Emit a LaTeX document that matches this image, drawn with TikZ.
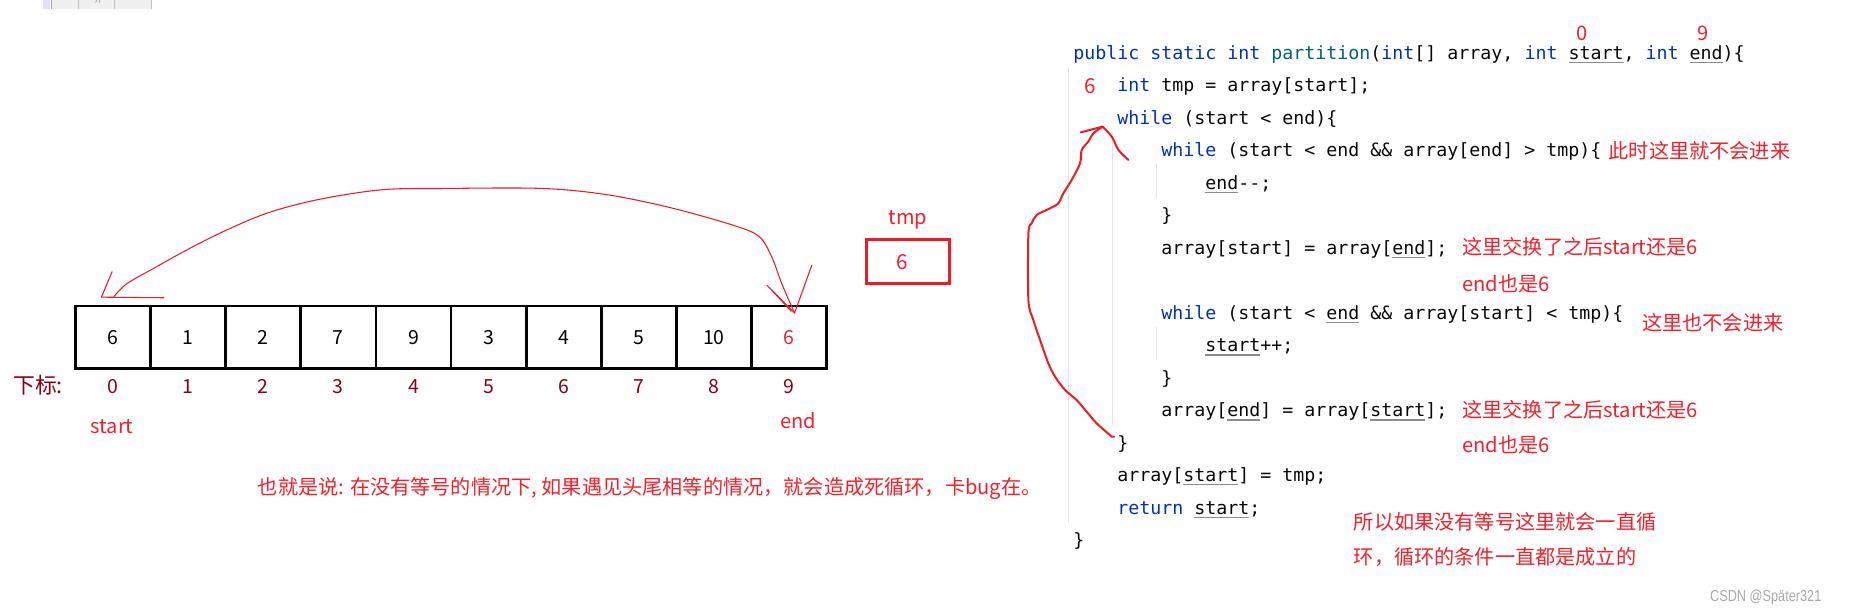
\documentclass[tikz,border=0pt]{standalone}
\usepackage{fontspec}
\usepackage{graphicx}
\newfontfamily\codefam{DejaVu Sans Mono}
\newfontfamily\cjkfam{Noto Sans CJK SC}
\newfontfamily\wmfam{Liberation Sans}
\definecolor{kwblue}{HTML}{0033B3}
\definecolor{fnteal}{HTML}{00627A}
\definecolor{codeblack}{HTML}{080808}
\definecolor{ulgray}{HTML}{8C8C8C}
\definecolor{guidegray}{HTML}{E3E3E3}
\definecolor{annred}{HTML}{F2202A}
\definecolor{penred}{HTML}{ED1C24}
\definecolor{idxred}{HTML}{880015}
\definecolor{wmgray}{HTML}{A8A8A8}
\newcommand\kw[1]{\textcolor{kwblue}{#1}}
\newcommand\prmu[1]{\setbox0=\hbox{#1}\rlap{\color{ulgray}\rule[-3.2pt]{\wd0}{0.9pt}}\box0\relax}
\tikzset{
  codeln/.style={anchor=base west, inner sep=0pt, text=codeblack, font=\codefam\fontsize{15.5}{18}\selectfont},
  ann/.style={anchor=base west, inner sep=0pt, text=annred, font=\cjkfam\fontsize{17.1}{20}\selectfont},
  cell/.style={draw=black, line width=2.3pt, minimum width=63.7pt, minimum height=53pt, inner sep=0pt, font=\cjkfam\fontsize{16.5}{18}\selectfont},
  idx/.style={anchor=base, inner sep=0pt, text=idxred, font=\cjkfam\fontsize{16.5}{18}\selectfont},
  redlbl/.style={anchor=base, inner sep=0pt, text=annred, font=\cjkfam\fontsize{17}{20}\selectfont},
  penthin/.style={draw=penred, line width=0.9pt, line cap=round, line join=round},
  penthick/.style={draw=penred, line width=1.7pt, line cap=round, line join=round},
  guide/.style={draw=guidegray, line width=0.85pt}
}
\begin{document}
\begin{tikzpicture}[x=1pt, y=-1pt]
\useasboundingbox (0,0) rectangle (1568,520);
\fill[white] (0,0) rectangle (1568,520);
% toolbar remnant
\fill[fill=blue!12!white] (36.8,-2) rectangle (42.6,7.6);
\fill[fill=black!6] (43.6,-2) rectangle (128.6,7.6);
\draw[draw=black!35, line width=0.8pt] (43.6,-2) -- (43.6,7.6);
\draw[draw=black!25, line width=0.6pt] (66.4,-2) -- (66.4,7.6) (97,-2) -- (97,7.6) (128.6,-2) -- (128.6,7.6);
\node[inner sep=0pt, text=black!60, font=\fontsize{7}{8}\selectfont] (tbchev) at (83,1.5) {››};

% array
\foreach \v [count=\i from 0] in {6,1,2,7,9,3,4,5,10} {
  \node[cell] (c\i) at ({95.85+63.7*\i},286) {\v};
}
\node[cell, text=annred] (c9) at ({95.85+63.7*9},286) {6};
\node[anchor=base west, inner sep=0pt, text=idxred, font=\cjkfam\fontsize{18.5}{20}\selectfont] (xblbl) at (11,333.5) {下标:};
\foreach \i in {0,...,9} {
  \node[idx] (i\i) at ({95.85+63.7*\i},333.5) {\i};
}
\node[redlbl] (startlbl) at (95,368) {start};
\node[redlbl] (endlbl) at (677,363) {end};

% tmp
\node[redlbl] (tmplbl) at (770,190) {tmp};
\node[draw=penred, line width=2.8pt, minimum width=70pt, minimum height=37.2pt, inner sep=0pt] (tmpbox) at (770,221.9) {};
\node[redlbl, font=\cjkfam\fontsize{17.5}{20}\selectfont] (tmpval) at (765.2,228.4) {6};

% freehand arc over array
\coordinate (arcR) at (673.8,265.4);
\coordinate (arcL) at (86,252);
\draw[penthin] plot[smooth, tension=0.55] coordinates {(arcR) (663,240.7) (654.8,218.7) (644,200.8) (622.3,191.2) (568.1,176) (513.9,165) (459.7,159.8) (378.4,159.8) (324.2,160.9) (270,169.2) (226.6,180.7) (188.7,196.7) (156.1,213.2) (129,228.3) (107.4,240.7) (96.5,251.7)};
\draw[penthin] (95,230.5) -- (arcL) -- (139,252.5);
\draw[penthin] (650.5,242) -- (arcR) -- (688.4,225);
\draw[penthin] (654.5,246) -- (671,264);

% bottom sentence
\node[ann] (summary) at (218.5,419) {也就是说: 在没有等号的情况下, 如果遇见头尾相等的情况，就会造成死循环，卡bug在。};

% indent guides
\draw[guide] (906,57.6) -- (906,443.6);
\draw[guide] (943.3,112) -- (943.3,360.5);
\draw[guide] (980.6,139) -- (980.6,168);
\draw[guide] (980.6,277) -- (980.6,305);

% code
\node[codeln] (l1) at (910,50.3) {\kw{public static int} \textcolor{fnteal}{partition}(\kw{int}[] array, \kw{int} \prmu{start}, \kw{int} \prmu{end})\{};
\node[codeln] (l2) at (947.3,77.9) {\kw{int} tmp = array[start];};
\node[codeln] (l3) at (947.3,105.4) {\kw{while} (start < end)\{};
\node[codeln] (l4) at (984.6,133.0) {\kw{while} (start < end \&\& array[end] > tmp)\{};
\node[codeln] (l5) at (1021.9,160.5) {\prmu{end}-{}-;};
\node[codeln] (l6) at (984.6,188.1) {\}};
\node[codeln] (l7) at (984.6,215.6) {array[start] = array[\prmu{end}];};
\node[codeln] (l9) at (984.6,270.7) {\kw{while} (start < \prmu{end} \&\& array[start] < tmp)\{};
\node[codeln] (l10) at (1021.9,298.3) {\prmu{start}++;};
\node[codeln] (l11) at (984.6,325.8) {\}};
\node[codeln] (l12) at (984.6,353.4) {array[\prmu{end}] = array[\prmu{start}];};
\node[codeln] (l13) at (947.3,380.9) {\}};
\node[codeln] (l14) at (947.3,408.5) {array[\prmu{start}] = tmp;};
\node[codeln] (l15) at (947.3,436.0) {\kw{return} \prmu{start};};
\node[codeln] (l16) at (910,463.6) {\}};

% red numbers on code
\node[redlbl] (n0) at (1342,34.5) {0};
\node[redlbl] (n9) at (1444,34.5) {9};
\node[redlbl, font=\cjkfam\fontsize{17.5}{20}\selectfont] (n6) at (924.3,79) {6};

% annotations
\node[ann] (a4) at (1364,134) {此时这里就不会进来};
\node[ann] (a7) at (1240,216) {这里交换了之后start还是6};
\node[ann] (a8) at (1240,247) {end也是6};
\node[ann] (a9) at (1392.5,280) {这里也不会进来};
\node[ann] (a12) at (1240,354) {这里交换了之后start还是6};
\node[ann] (a13) at (1240,384) {end也是6};
\node[ann] (a15) at (1148,449) {所以如果没有等号这里就会一直循};
\node[ann] (a16) at (1148,479) {环，循环的条件一直都是成立的};

% loop on code
\coordinate (lpTop) at (935.1,107.4);
\coordinate (lpEnd) at (942.8,370.3);
\draw[penthick] plot[smooth, tension=0.5] coordinates {(lpTop) (927.2,113.1) (922.9,120.1) (917.3,127.2) (915.9,138.5) (908.8,152.6) (901.7,164) (897.5,172.4) (890.4,176.7) (879.1,182.3) (874.9,189.4) (872.1,197.9) (872.1,254.4) (876.3,271.4) (882,288.3) (889,308.1) (894.7,319.4) (903.2,330.7) (913,339.2) (921.5,349.1) (930,359) (lpEnd)} -- (944.8,370.3);
\draw[penthick] (916.5,112.2) -- (lpTop);
\draw[penthick] plot[smooth, tension=0.5] coordinates {(lpTop) (942.8,115.9) (948.5,127.2) (957,135.7)};

% watermark
\node[anchor=base west, inner sep=0pt, text=wmgray, font=\wmfam\fontsize{13.5}{15}\selectfont] (wm) at (1450,510) {\scalebox{0.8}[1]{CSDN @Später321}};
\end{tikzpicture}
\end{document}
